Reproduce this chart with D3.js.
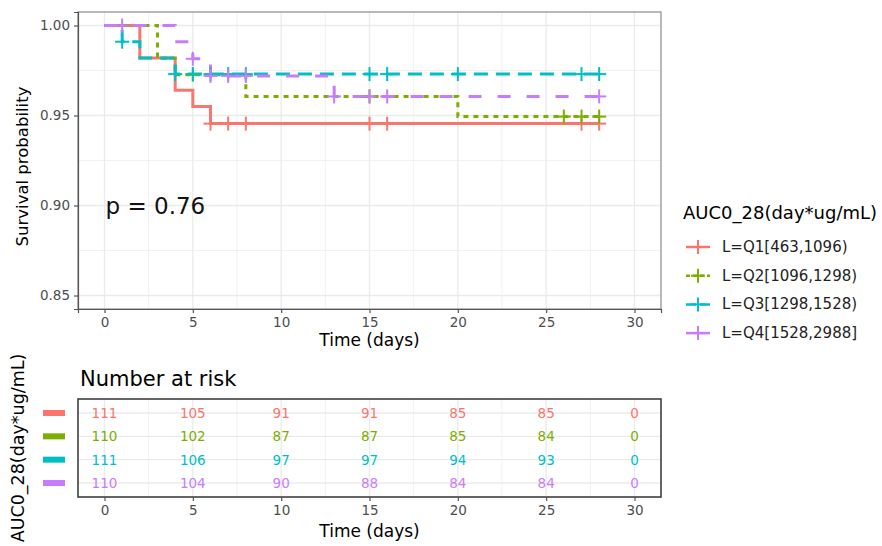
<!DOCTYPE html>
<html><head><meta charset="utf-8">
<script src="https://cdn.jsdelivr.net/npm/d3@7"></script>
<style>body{margin:0;background:#fff}svg{display:block;font-family:"DejaVu Sans",sans-serif}</style>
</head><body><svg id="c" width="882" height="546"></svg>
<script>
// ---- data ----
const strata = ["L=Q1[463,1096)", "L=Q2[1096,1298)", "L=Q3[1298,1528)", "L=Q4[1528,2988]"];
const colors = ["#F8766D", "#7CAE00", "#00BFC4", "#C77CFF"];
const q1Times = [0, 2, 4, 5, 6, 28];
const q1Surv  = [1, 0.982, 0.964, 0.955, 0.9455, 0.9455];
const q2Times = [0, 3, 4, 8, 20, 28];
const q2Surv  = [1, 0.9818, 0.9727, 0.9606, 0.9494, 0.9494];
const q3Times = [0, 1, 2, 4, 28];
const q3Surv  = [1, 0.991, 0.982, 0.973, 0.973];
const q4Times = [0, 4, 5, 6, 13, 28];
const q4Surv  = [1, 0.991, 0.9815, 0.972, 0.9606, 0.9606];
const q1Cens = [6, 7, 8, 15, 16, 27, 28];
const q2Cens = [5, 15, 26, 27, 28];
const q3Cens = [1, 4, 5, 6, 7, 8, 15, 16, 20, 27, 28];
const q4Cens = [1, 5, 6, 7, 8, 13, 15, 16, 28];
const riskTimes = [0, 5, 10, 15, 20, 25, 30];
const q1Risk = [111, 105, 91, 91, 85, 85, 0];
const q2Risk = [110, 102, 87, 87, 85, 84, 0];
const q3Risk = [111, 106, 97, 97, 94, 93, 0];
const q4Risk = [110, 104, 90, 88, 84, 84, 0];
const xTicks = [0, 5, 10, 15, 20, 25, 30];
const yTicks = [0.85, 0.90, 0.95, 1.00];
const pLabel = "p = 0.76";
const legendTitle = "AUC0_28(day*ug/mL)";

const times = [q1Times, q2Times, q3Times, q4Times];
const survs = [q1Surv, q2Surv, q3Surv, q4Surv];
const cens = [q1Cens, q2Cens, q3Cens, q4Cens];
const risks = [q1Risk, q2Risk, q3Risk, q4Risk];
const dashes = [null, "5,5", "14,8", "13,16"];

// ---- layout ----
const svg = d3.select("#c");
const L = 78, R = 661, T = 12, B = 309;
const x = d3.scaleLinear().domain([-1.5, 31.5]).range([L, R]);
const y = d3.scaleLinear().domain([0.8425, 1.0075]).range([B, T]);
const grid = "#ebebeb";

// main panel grid
const g = svg.append("g");
const minorX = d3.range(-2.5, 32.6, 5), minorY = [0.875, 0.925, 0.975];
g.selectAll(".mx").data(minorX.filter(v => x(v) > L && x(v) < R)).join("line")
  .attr("x1", d => x(d)).attr("x2", d => x(d)).attr("y1", T).attr("y2", B)
  .attr("stroke", grid).attr("stroke-width", 0.7);
g.selectAll(".my").data(minorY).join("line")
  .attr("y1", d => y(d)).attr("y2", d => y(d)).attr("x1", L).attr("x2", R)
  .attr("stroke", grid).attr("stroke-width", 0.7);
g.selectAll(".gx").data(xTicks).join("line")
  .attr("x1", d => x(d)).attr("x2", d => x(d)).attr("y1", T).attr("y2", B)
  .attr("stroke", grid).attr("stroke-width", 1.3);
g.selectAll(".gy").data(yTicks).join("line")
  .attr("y1", d => y(d)).attr("y2", d => y(d)).attr("x1", L).attr("x2", R)
  .attr("stroke", grid).attr("stroke-width", 1.3);
g.append("rect").attr("x", L).attr("y", T).attr("width", R - L).attr("height", B - T)
  .attr("fill", "none").attr("stroke", "#8a8a8a").attr("stroke-width", 1.2);

// axes
const xAxis = d3.axisBottom(x).tickValues(xTicks).tickFormat(d3.format("d")).tickSize(4).tickPadding(4);
const yAxis = d3.axisLeft(y).tickValues(yTicks).tickFormat(d3.format(".2f")).tickSize(4).tickPadding(4);
function styleAxis(sel) {
  sel.select(".domain").attr("stroke", "#555").attr("stroke-width", 1.2);
  sel.selectAll(".tick line").attr("stroke", "#555").attr("stroke-width", 1.2);
  sel.selectAll("text").attr("fill", "#4d4d4d").attr("font-size", 13.5).attr("font-family", "DejaVu Sans");
}
svg.append("g").attr("transform", `translate(0,${B})`).call(xAxis).call(styleAxis);
svg.append("g").attr("transform", `translate(${L},0)`).call(yAxis).call(styleAxis);

svg.append("text").attr("x", (L + R) / 2).attr("y", 346).attr("text-anchor", "middle")
  .attr("font-size", 17).text("Time (days)");
svg.append("text").attr("transform", `translate(28,${(T + B) / 2 + 6}) rotate(-90)`).attr("text-anchor", "middle")
  .attr("font-size", 16.5).text("Survival probability");

// curves
const line = d3.line().x(d => x(d[0])).y(d => y(d[1])).curve(d3.curveStepAfter);
function survAt(ti, su, t) { let v = su[0]; for (let i = 0; i < ti.length; i++) if (ti[i] <= t) v = su[i]; return v; }
const curves = svg.append("g");
strata.forEach((s, i) => {
  const pts = times[i].map((t, j) => [t, survs[i][j]]);
  curves.append("path").datum(pts).attr("d", line).attr("fill", "none")
    .attr("stroke", colors[i]).attr("stroke-width", 3)
    .attr("stroke-dasharray", dashes[i]);
});
strata.forEach((s, i) => {
  const cg = curves.append("g").attr("stroke", colors[i]).attr("stroke-width", 2);
  cens[i].forEach(t => {
    const cx = x(t), cy = y(survAt(times[i], survs[i], t));
    cg.append("line").attr("x1", cx - 7).attr("x2", cx + 7).attr("y1", cy).attr("y2", cy);
    cg.append("line").attr("x1", cx).attr("x2", cx).attr("y1", cy - 7).attr("y2", cy + 7);
  });
});

// p-value
svg.append("text").attr("x", x(0) + 1).attr("y", y(0.9) + 8).attr("font-size", 23).attr("fill", "#111").text(pLabel);

// legend
const lg = svg.append("g");
lg.append("text").attr("x", 683).attr("y", 219).attr("font-size", 18).text(legendTitle);
strata.forEach((s, i) => {
  const ly = 247 + i * 28.7;
  lg.append("line").attr("x1", 686).attr("x2", 710).attr("y1", ly).attr("y2", ly)
    .attr("stroke", colors[i]).attr("stroke-width", 2.5).attr("stroke-dasharray", i === 1 ? "4,3" : i === 2 ? "10,4" : null);
  lg.append("line").attr("x1", 691).attr("x2", 705).attr("y1", ly).attr("y2", ly).attr("stroke", colors[i]).attr("stroke-width", 2);
  lg.append("line").attr("x1", 698).attr("x2", 698).attr("y1", ly - 7).attr("y2", ly + 7).attr("stroke", colors[i]).attr("stroke-width", 2);
  lg.append("text").attr("x", 722).attr("y", ly + 5).attr("font-size", 15).attr("fill", "#222").text(s);
});

// risk table
const RT = 399, RB = 497;
const ry = d3.scalePoint().domain(strata).range([RT, RB]).padding(0.6);
const rg = svg.append("g");
svg.append("text").attr("x", 80).attr("y", 386).attr("font-size", 21).text("Number at risk");
rg.selectAll(".mx").data(minorX.filter(v => x(v) > L && x(v) < R)).join("line")
  .attr("x1", d => x(d)).attr("x2", d => x(d)).attr("y1", RT).attr("y2", RB)
  .attr("stroke", grid).attr("stroke-width", 0.7);
rg.selectAll(".gx").data(xTicks).join("line")
  .attr("x1", d => x(d)).attr("x2", d => x(d)).attr("y1", RT).attr("y2", RB)
  .attr("stroke", grid).attr("stroke-width", 1.3);
rg.selectAll(".gy").data(strata).join("line")
  .attr("y1", d => ry(d)).attr("y2", d => ry(d)).attr("x1", L).attr("x2", R)
  .attr("stroke", grid).attr("stroke-width", 1.3);
strata.forEach((s, i) => {
  rg.selectAll(null).data(riskTimes).join("text")
    .attr("x", d => x(d)).attr("y", ry(s) + 5).attr("text-anchor", "middle")
    .attr("font-size", 13.5).attr("fill", colors[i])
    .text((d, j) => risks[i][j]);
  svg.append("rect").attr("x", 43).attr("y", ry(s) - 3).attr("width", 22).attr("height", 6).attr("fill", colors[i]);
});
rg.append("rect").attr("x", L).attr("y", RT).attr("width", R - L).attr("height", RB - RT)
  .attr("fill", "none").attr("stroke", "#333").attr("stroke-width", 1.5);
svg.append("g").attr("transform", `translate(0,${RB})`).call(xAxis).call(styleAxis)
  .call(s => s.select(".domain").remove());
svg.append("text").attr("x", (L + R) / 2).attr("y", 537).attr("text-anchor", "middle")
  .attr("font-size", 17).text("Time (days)");
svg.append("text").attr("transform", `translate(24,${(RT + RB) / 2}) rotate(-90)`).attr("text-anchor", "middle")
  .attr("font-size", 17.5).text(legendTitle);
</script></body></html>
